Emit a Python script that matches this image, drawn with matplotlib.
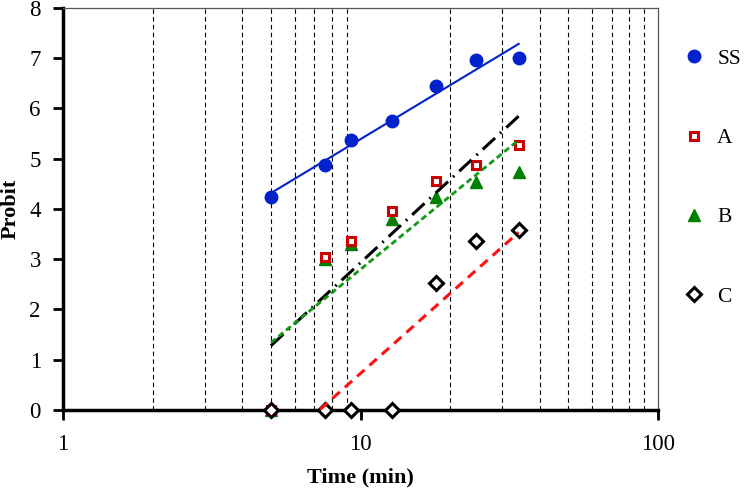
import numpy as np
import matplotlib
matplotlib.use("Agg")
import matplotlib.pyplot as plt
from matplotlib.lines import Line2D

plt.rcParams['font.family'] = ['Liberation Serif', 'DejaVu Serif']

time_min = [5.0, 7.6, 9.3, 12.8, 17.9, 24.4, 34.0]
probit_SS = [4.24, 4.88, 5.37, 5.76, 6.45, 6.97, 7.01]
probit_A = [0.0, 3.05, 3.36, 3.96, 4.55, 4.87, 5.27]
probit_B = [0.0, 3.00, 3.30, 3.80, 4.23, 4.54, 4.73]
probit_C = [0.0, 0.0, 0.0, 0.0, 2.52, 3.37, 3.58]
series_labels = ['SS', 'A', 'B', 'C']
x_ticks = [1, 10, 100]
y_ticks = [0, 1, 2, 3, 4, 5, 6, 7, 8]

fig = plt.figure(figsize=(7.45, 4.9), dpi=100)
ax = fig.add_axes([0.0846, 0.1633, 0.7987, 0.8204])
ax.set_xscale('log')
ax.set_xlim(1, 100)
ax.set_ylim(0, 8)

# vertical dashed gridlines at minor positions
for d in [1, 10]:
    for k in range(2, 10):
        ax.axvline(k * d, color='black', lw=0.8, ls=(0, (4, 3)), zorder=0)

t = np.array(time_min)
lt = np.log10(t)

styles = {
    'SS': dict(marker='o', ms=9, mfc='#0022cc', mec='#0022cc', mew=1),
    'A': dict(marker='s', ms=6, mfc='white', mec='#cc0000', mew=2.2),
    'B': dict(marker='^', ms=9, mfc='#008000', mec='#008000', mew=1),
    'C': dict(marker='D', ms=7.5, mfc='white', mec='black', mew=2.2),
}
data = {'SS': probit_SS, 'A': probit_A, 'B': probit_B, 'C': probit_C}
zo = {'SS': 3, 'A': 3.2, 'B': 3.1, 'C': 3.3}
for name in series_labels:
    ax.plot(t, data[name], ls='none', clip_on=False, zorder=zo[name], **styles[name])

# trendlines: least squares fit of probit vs log10(time)
line_styles = {
    'SS': dict(color='#0022cc', lw=1.5, ls='-'),
    'A': dict(color='black', lw=2.2, dashes=(5.5, 2.2, 0.6, 2.2)),
    'B': dict(color='#119911', lw=2.0, dashes=(2.2, 1.3)),
    'C': dict(color='#ff1111', lw=2.2, dashes=(3.2, 2.2)),
}
for name in series_labels:
    p = np.polyfit(lt, np.array(data[name]), 1)
    xx = np.logspace(lt[0], lt[-1], 200)
    yy = np.polyval(p, np.log10(xx))
    ax.plot(xx, yy, zorder=4, **line_styles[name])

ax.set_xticks(x_ticks)
ax.set_xticklabels([str(v) for v in x_ticks])
ax.xaxis.set_minor_locator(matplotlib.ticker.NullLocator())
ax.set_yticks(y_ticks)
ax.tick_params(axis='both', labelsize=16.5, width=2, length=7, direction='out')
ax.tick_params(axis='x', pad=10)
ax.tick_params(axis='y', pad=9)

for s in ['left', 'bottom']:
    ax.spines[s].set_linewidth(2.5)
    ax.spines[s].set_color('black')
for s in ['top', 'right']:
    ax.spines[s].set_linewidth(0.9)
    ax.spines[s].set_color('#555555')

ax.set_xlabel('Time (min)', fontsize=16, fontweight='bold', labelpad=9)
ax.set_ylabel('Probit', fontsize=16, fontweight='bold', labelpad=6)

handles = [Line2D([], [], ls='none', **styles[n]) for n in series_labels]
fig.legend(handles, series_labels, loc='upper left', bbox_to_anchor=(0.905, 0.918),
           frameon=False, fontsize=15.5, labelspacing=2.75, handletextpad=0.6,
           borderaxespad=0, handlelength=1.0)

fig.savefig('out.png', dpi=100)
